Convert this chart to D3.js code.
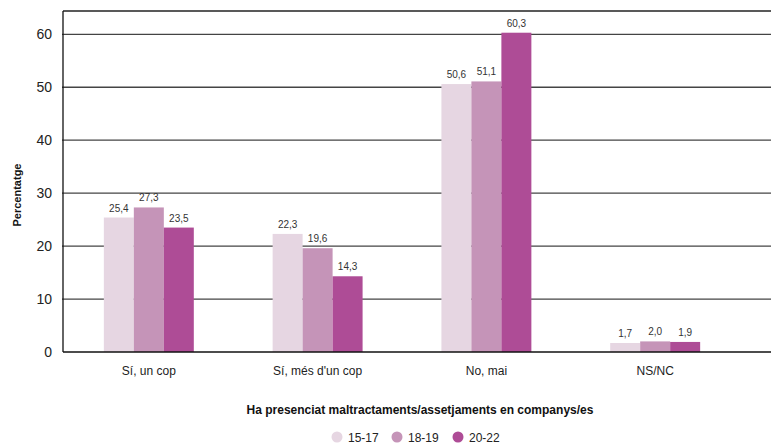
<!DOCTYPE html>
<html><head><meta charset="utf-8">
<script src="https://cdn.jsdelivr.net/npm/d3@7"></script>
<style>body{margin:0;background:#fff;}svg{display:block;font-family:"Liberation Sans",Arial,sans-serif;}</style>
</head><body>
<svg id="c" width="771" height="444"></svg>
<script>
const categories = ["Sí, un cop", "Sí, més d'un cop", "No, mai", "NS/NC"];
const seriesNames = ["15-17", "18-19", "20-22"];
const values_15_17 = [25.4, 22.3, 50.6, 1.7];
const values_18_19 = [27.3, 19.6, 51.1, 2.0];
const values_20_22 = [23.5, 14.3, 60.3, 1.9];
const yTicks = [0, 10, 20, 30, 40, 50, 60];
const colors = ["#e6d6e2", "#c594b8", "#ae4c96"];
const xTitle = "Ha presenciat maltractaments/assetjaments en companys/es";
const yTitle = "Percentatge";

(function () {
const seriesValues = [values_15_17, values_18_19, values_20_22];
const fmt = v => d3.format(".1f")(v).replace(".", ",");

const svg = d3.select("#c");
const mLeft = 63, mRight = 771, mTop = 11, mBottom = 352;

const y = d3.scaleLinear().domain([0, 64.4]).range([mBottom, mTop]);
const x = d3.scaleBand().domain(categories).range([63, 741]).paddingInner(0.467).paddingOuter(0.242);
const xs = d3.scaleBand().domain(seriesNames).range([0, x.bandwidth()]);

// gridlines
svg.append("g").selectAll("line").data(yTicks.filter(t => t > 0)).join("line")
  .attr("x1", mLeft - 1).attr("x2", mRight)
  .attr("y1", d => y(d)).attr("y2", d => y(d))
  .attr("stroke", "#444").attr("stroke-width", 1.3);
// top frame
svg.append("line").attr("x1", mLeft).attr("x2", mRight).attr("y1", mTop).attr("y2", mTop)
  .attr("stroke", "#222").attr("stroke-width", 1.3);

// y axis
const yAxis = svg.append("g").attr("transform", `translate(${mLeft},0)`)
  .call(d3.axisLeft(y).tickValues(yTicks).tickSize(0).tickPadding(11).tickFormat(d3.format("d")));
yAxis.select(".domain").remove();
yAxis.selectAll("text").attr("font-size", 14).attr("fill", "#222").attr("font-family", "inherit");
svg.append("line").attr("x1", mLeft).attr("x2", mLeft).attr("y1", mTop).attr("y2", mBottom)
  .attr("stroke", "#111").attr("stroke-width", 1.3);

// bars
const groups = svg.append("g").selectAll("g").data(categories).join("g")
  .attr("transform", d => `translate(${x(d)},0)`);
seriesNames.forEach((s, si) => {
  groups.append("rect")
    .attr("x", xs(s)).attr("width", xs.bandwidth())
    .attr("y", (d, i) => y(seriesValues[si][i]))
    .attr("height", (d, i) => mBottom - y(seriesValues[si][i]))
    .attr("fill", colors[si]);
  groups.append("text")
    .attr("x", xs(s) + xs.bandwidth() / 2)
    .attr("y", (d, i) => y(seriesValues[si][i]) - 6)
    .attr("text-anchor", "middle").attr("font-size", 10).attr("fill", "#333")
    .text((d, i) => fmt(seriesValues[si][i]));
});

// x axis
svg.append("line").attr("x1", mLeft).attr("x2", mRight).attr("y1", mBottom).attr("y2", mBottom)
  .attr("stroke", "#111").attr("stroke-width", 1.3);
const xAxis = svg.append("g").attr("transform", `translate(0,${mBottom})`)
  .call(d3.axisBottom(x).tickSize(0).tickPadding(14));
xAxis.select(".domain").remove();
xAxis.selectAll("text").attr("font-size", 12).attr("fill", "#222").attr("font-family", "inherit");

// titles
svg.append("text").attr("x", 420).attr("y", 414).attr("text-anchor", "middle")
  .attr("font-size", 12).attr("font-weight", "bold").attr("fill", "#111").text(xTitle);
svg.append("text").attr("transform", "translate(21,195) rotate(-90)").attr("text-anchor", "middle")
  .attr("font-size", 11).attr("font-weight", "bold").attr("fill", "#111").text(yTitle);

// legend
const legendX = [337, 397, 458];
const lg = svg.append("g").selectAll("g").data(seriesNames).join("g")
  .attr("transform", (d, i) => `translate(${legendX[i]},437)`);
lg.append("circle").attr("r", 5.5).attr("fill", (d, i) => colors[i]);
lg.append("text").attr("x", 11).attr("y", 4.5).attr("font-size", 12).attr("fill", "#222").text(d => d);
})();
</script>
</body></html>
